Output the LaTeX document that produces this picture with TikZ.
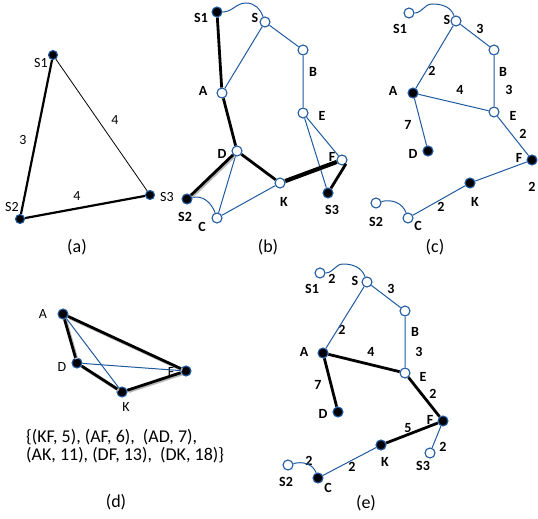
\documentclass[tikz,border=0pt]{standalone}
\usepackage{fontspec}
\setmainfont{Carlito}
\usetikzlibrary{positioning}
\definecolor{edgeblue}{RGB}{31,90,160}

\begin{document}
\begin{tikzpicture}[
        x=1pt, y=-1pt,
        % Define node styles
        vertex/.style={circle, draw=edgeblue, line width=1.1pt, fill=white, minimum size=10pt, inner sep=0pt},
        fullvertex/.style={vertex, fill=black},
        smallvertex/.style={fullvertex, minimum size=9pt},
        name label/.style={font=\bfseries\fontsize{14}{16}\selectfont, inner sep=1pt},
        plain label/.style={font=\fontsize{14}{16}\selectfont, inner sep=1pt},
        caption/.style={font=\fontsize{18}{20}\selectfont},
        link/.style={draw=edgeblue, line width=1pt},
        tree/.style={draw=black, line width=2.8pt},
        shadowed/.style={tree, preaction={draw=gray!55, line width=3pt, transform canvas={shift={(1.3pt,-1.3pt)}}}}
    ]
    \useasboundingbox (0,0) rectangle (538,519);

    % --- (a) Steiner triangle ---
    \node[smallvertex] (a-S1) at (53,55) {};
    \node[smallvertex] (a-S2) at (20,219) {};
    \node[smallvertex] (a-S3) at (150,195) {};
    \node[plain label] (a-S1l) at (41,63) {S1};
    \node[plain label] (a-S2l) at (12,207) {S2};
    \node[plain label] (a-S3l) at (167,197) {S3};
    \node[plain label] (a-w12) at (23,140) {3};
    \node[plain label] (a-w13) at (115,120) {4};
    \node[plain label] (a-w23) at (77,196) {4};
    \draw[line width=2.2pt] (a-S1) -- (a-S2) -- (a-S3);
    \draw[line width=0.8pt] (a-S1) -- (a-S3);
    \node[caption] (a-cap) at (77,247) {(a)};

    % --- (b) Graph with paths ---
    \node[fullvertex] (b-S1) at (217,12) {};
    \node[vertex] (b-S) at (265,22) {};
    \node[vertex] (b-B) at (303,50) {};
    \node[vertex] (b-A) at (222,93) {};
    \node[vertex] (b-E) at (303,113) {};
    \node[vertex] (b-D) at (237,151) {};
    \node[vertex] (b-F) at (342,160) {};
    \node[vertex] (b-K) at (280,183) {};
    \node[fullvertex] (b-S3) at (328,193) {};
    \node[fullvertex] (b-S2) at (187,199) {};
    \node[vertex] (b-C) at (217,218) {};
    \coordinate (b-top) at (246,3);
    \node[name label] (b-S1l) at (201,18) {S1};
    \node[name label] (b-Sl) at (255,18) {S};
    \node[name label] (b-Bl) at (313,72) {B};
    \node[name label] (b-Al) at (203,91) {A};
    \node[name label] (b-El) at (322,116) {E};
    \node[name label] (b-Dl) at (222,154) {D};
    \node[name label] (b-Fl) at (332,157) {F};
    \node[name label] (b-Kl) at (284,202) {K};
    \node[name label] (b-S3l) at (332,210) {S3};
    \node[name label] (b-S2l) at (185,217) {S2};
    \node[name label] (b-Cl) at (202,227) {C};
    \draw[link] (b-S) -- (b-A);
    \draw[link] (b-S) -- (b-B) -- (b-E) -- (b-F);
    \draw[link] (b-E) -- (b-S3);
    \draw[link] (b-D) -- (b-C) -- (b-K);
    \draw[link] (b-S1) to[out=0, in=180] (b-top) to[out=0, in=110] (b-S);
    \draw[link] (b-S2) to[out=15, in=110] (b-C);
    \draw[tree] (b-S1) -- (b-A) -- (b-D);
    \draw[shadowed] (b-D) -- (b-S2);
    \draw[tree] (b-D) -- (b-K);
    \draw[tree, line width=4.2pt] (b-K) -- (b-F);
    \draw[tree] (b-F.south east) -- (b-S3);
    \node[caption] (b-cap) at (268,247) {(b)};

    % --- (c) Weighted graph ---
    \node[vertex] (c-S1) at (409,13) {};
    \node[vertex] (c-S) at (456,21) {};
    \node[vertex] (c-B) at (494,50) {};
    \node[fullvertex] (c-A) at (413,93) {};
    \node[vertex] (c-E) at (494,112) {};
    \node[fullvertex] (c-D) at (428,151) {};
    \node[fullvertex] (c-F) at (532,160) {};
    \node[fullvertex] (c-K) at (470,183) {};
    \node[vertex] (c-S2) at (376,203) {};
    \node[vertex] (c-C) at (408,218) {};
    \coordinate (c-top) at (432,4);
    \node[name label] (c-S1l) at (400,29) {S1};
    \node[name label] (c-Sl) at (447,20) {S};
    \node[name label] (c-Bl) at (503,72) {B};
    \node[name label] (c-Al) at (393,91) {A};
    \node[name label] (c-El) at (513,116) {E};
    \node[name label] (c-Dl) at (413,154) {D};
    \node[name label] (c-Fl) at (519,158) {F};
    \node[name label] (c-Kl) at (475,202) {K};
    \node[name label] (c-S2l) at (376,222) {S2};
    \node[name label] (c-Cl) at (418,226) {C};
    \node[name label] (c-wSB) at (480,29) {3};
    \node[name label] (c-wSA) at (432,71) {2};
    \node[name label] (c-wAE) at (460,90) {4};
    \node[name label] (c-wBE) at (509,90) {3};
    \node[name label] (c-wAD) at (408,125) {7};
    \node[name label] (c-wEF) at (523,134) {2};
    \node[name label] (c-wFK) at (532,187) {2};
    \node[name label] (c-wKC) at (441,207) {2};
    \draw[link] (c-S1) to[out=0, in=180] (c-top) to[out=0, in=110] (c-S);
    \draw[link] (c-S2) to[out=15, in=110] (c-C);
    \draw[link] (c-S) -- (c-A) -- (c-D);
    \draw[link] (c-S) -- (c-B) -- (c-E) -- (c-F) -- (c-K) -- (c-C);
    \draw[link] (c-A) -- (c-E);
    \node[caption] (c-cap) at (435,247) {(c)};

    % --- (d) Distance graph ---
    \node[fullvertex] (d-A) at (63,314) {};
    \node[fullvertex] (d-D) at (77,363) {};
    \node[fullvertex] (d-F) at (186,371) {};
    \node[fullvertex] (d-K) at (122,392) {};
    \node[plain label] (d-Al) at (43,314) {A};
    \node[plain label] (d-Dl) at (62,367) {D};
    \node[plain label] (d-Fl) at (171,372) {F};
    \node[plain label] (d-Kl) at (126,407) {K};
    \draw[shadowed] (d-A) -- (d-F);
    \draw[shadowed] (d-A) -- (d-D) -- (d-K) -- (d-F);
    \draw[link] (d-A) -- (d-K);
    \draw[link] (d-D) -- (d-F);
    \node[caption, font=\fontsize{18}{18.5}\selectfont, anchor=west, align=left, inner sep=0pt] (d-list) at (26,446)
        {\{(KF, 5), (AF, 6),~ (AD, 7),\\(AK, 11), (DF, 13),~ (DK, 18)\}};
    \node[caption] (d-cap) at (116,502) {(d)};

    % --- (e) Steiner tree ---
    \node[vertex] (e-S1) at (320,273) {};
    \node[vertex] (e-S) at (367,282) {};
    \node[vertex] (e-B) at (405,311) {};
    \node[fullvertex] (e-A) at (323,353) {};
    \node[vertex] (e-E) at (405,373) {};
    \node[fullvertex] (e-D) at (338,412) {};
    \node[fullvertex] (e-F) at (443,421) {};
    \node[fullvertex] (e-K) at (381,445) {};
    \node[vertex] (e-S3) at (430,453) {};
    \node[vertex] (e-S2) at (288,465) {};
    \node[fullvertex] (e-C) at (318,478) {};
    \coordinate (e-top) at (343,264);
    \node[name label] (e-S1l) at (312,289) {S1};
    \node[name label] (e-Sl) at (355,281) {S};
    \node[name label] (e-Bl) at (415,332) {B};
    \node[name label] (e-Al) at (304,352) {A};
    \node[name label] (e-El) at (423,377) {E};
    \node[name label] (e-Dl) at (323,414) {D};
    \node[name label] (e-Fl) at (430,420) {F};
    \node[name label] (e-Kl) at (385,462) {K};
    \node[name label] (e-S3l) at (423,466) {S3};
    \node[name label] (e-S2l) at (286,482) {S2};
    \node[name label] (e-Cl) at (328,488) {C};
    \node[name label] (e-wS1S) at (332,279) {2};
    \node[name label] (e-wSB) at (391,289) {3};
    \node[name label] (e-wSA) at (342,330) {2};
    \node[name label] (e-wAE) at (371,352) {4};
    \node[name label] (e-wBE) at (419,352) {3};
    \node[name label] (e-wAD) at (318,385) {7};
    \node[name label] (e-wEF) at (433,394) {2};
    \node[name label] (e-wKF) at (408,428) {5};
    \node[name label] (e-wFS3) at (443,447) {2};
    \node[name label] (e-wS2C) at (309,461) {2};
    \node[name label] (e-wKC) at (352,467) {2};
    \draw[link] (e-S1) to[out=0, in=180] (e-top) to[out=0, in=110] (e-S);
    \draw[link] (e-S2) to[out=15, in=110] (e-C);
    \draw[link] (e-S) -- (e-A);
    \draw[link] (e-S) -- (e-B) -- (e-E);
    \draw[link] (e-K) -- (e-C);
    \draw[link] (e-F) -- (e-S3);
    \draw[tree] (e-A) -- (e-E) -- (e-F) -- (e-K);
    \draw[tree] (e-A) -- (e-D);
    \node[caption] (e-cap) at (366,503) {(e)};

\end{tikzpicture}
\end{document}
